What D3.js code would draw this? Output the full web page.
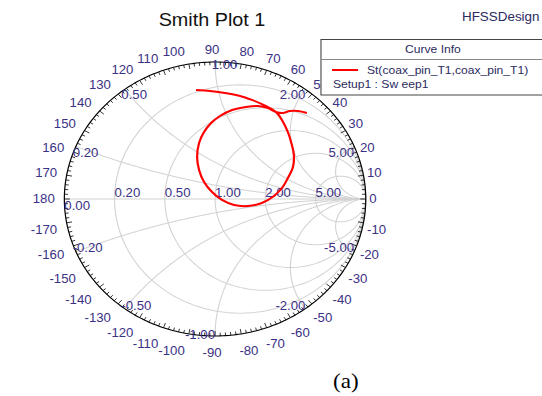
<!DOCTYPE html>
<html>
<head>
<meta charset="utf-8">
<script src="https://cdn.jsdelivr.net/npm/d3@7"></script>
<style>
body { margin: 0; background: #fff; }
svg text { font-family: Arial, "Liberation Sans", sans-serif; }
</style>
</head>
<body>
<div id="chart"></div>
<script>
// Grid values
var resistances = [0.2, 0.5, 1, 2, 5];
var reactances = [0.2, 0.5, 1, 2, 5, -0.2, -0.5, -1, -2, -5];
var angleLabels = [0, 10, 20, 30, 40, 50, 60, 70, 80, 90, 100, 110, 120, 130, 140, 150, 160, 170, 180,
    -170, -160, -150, -140, -130, -120, -110, -100, -90, -80, -70, -60, -50, -40, -30, -20, -10];

// St(coax_pin_T1,coax_pin_T1), reflection coefficient (real / imag)
var curveRe = [-0.126, -0.033, 0.066, 0.166, 0.245, 0.311, 0.364, 0.404, 0.444, 0.483, 0.510, 0.523,
    0.517, 0.483, 0.444, 0.391, 0.311, 0.219, 0.126, 0.046, -0.020, -0.073, -0.106, -0.119, -0.106,
    -0.073, -0.026, 0.033, 0.113, 0.205, 0.285, 0.351, 0.404, 0.450, 0.497, 0.550, 0.609];
var curveIm = [0.796, 0.788, 0.774, 0.752, 0.723, 0.693, 0.664, 0.635, 0.577, 0.489, 0.394, 0.321,
    0.234, 0.153, 0.080, 0.022, -0.029, -0.051, -0.044, -0.007, 0.051, 0.124, 0.212, 0.307, 0.409,
    0.489, 0.555, 0.606, 0.650, 0.672, 0.679, 0.664, 0.635, 0.628, 0.642, 0.642, 0.628];

var svgWidth = 542;
var svgHeight = 396;
var stretch = 1.1; // picture is a bit wider than tall

var cx = 195.5, cy = 199, R = 137;
var labelColor = "#3b3185";

var svg = d3.select("#chart")
    .append("svg")
    .attr("width", svgWidth)
    .attr("height", svgHeight);

var root = svg.append("g").attr("transform", "scale(" + stretch + ",1)");

var xScale = d3.scaleLinear().domain([-1, 1]).range([cx - R, cx + R]);
var yScale = d3.scaleLinear().domain([-1, 1]).range([cy + R, cy - R]);

var line = d3.line()
    .x(function (d) { return xScale(d[0]); })
    .y(function (d) { return yScale(d[1]); });

// z -> gamma
function gamma(r, x) {
    var d = (r + 1) * (r + 1) + x * x;
    return [(r * r + x * x - 1) / d, 2 * x / d];
}

// Grid
var grid = root.append("g").attr("class", "grid")
    .attr("fill", "none")
    .attr("stroke", "#d2d2d2")
    .attr("stroke-width", 1);

grid.append("path").attr("d", line([[-1, 0], [1, 0]]));

resistances.forEach(function (r) {
    var c = r / (1 + r), a = 1 / (1 + r);
    var pts = d3.range(0, 361, 2).map(function (t) {
        var rad = t * Math.PI / 180;
        return [c + a * Math.cos(rad), a * Math.sin(rad)];
    });
    grid.append("path").attr("d", line(pts));
});

reactances.forEach(function (x) {
    var pts = d3.range(0, 301).map(function (i) {
        var u = i / 300 * Math.PI / 2;
        return gamma(Math.tan(u), x);
    });
    pts.push([1, 0]);
    grid.append("path").attr("d", line(pts));
});

// Outer ring and ticks
root.append("path")
    .attr("d", line(d3.range(0, 361, 1).map(function (t) {
        var rad = t * Math.PI / 180;
        return [Math.cos(rad), Math.sin(rad)];
    })))
    .attr("fill", "none")
    .attr("stroke", "#000")
    .attr("stroke-width", 1.1);

var ticks = root.append("g").attr("stroke", "#111").attr("stroke-width", 0.8);
d3.range(0, 360, 2).forEach(function (t) {
    var rad = t * Math.PI / 180;
    var len = (t % 10 === 0) ? 5 : 3.2;
    var k = 1 - len / R;
    ticks.append("line")
        .attr("x1", xScale(Math.cos(rad)))
        .attr("y1", yScale(Math.sin(rad)))
        .attr("x2", xScale(k * Math.cos(rad)))
        .attr("y2", yScale(k * Math.sin(rad)));
});

// Angle labels around the chart
var labRx = 143, labRy = 149;
root.append("g").selectAll("text")
    .data(angleLabels)
    .enter()
    .append("text")
    .attr("font-size", 12)
    .attr("fill", labelColor)
    .attr("dy", "0.35em")
    .attr("text-anchor", function (d) {
        var c = Math.cos(d * Math.PI / 180);
        return c > 0.01 ? "start" : (c < -0.01 ? "end" : "middle");
    })
    .attr("x", function (d) {
        return cx - 2.7 + labRx * Math.cos(d * Math.PI / 180);
    })
    .attr("y", function (d) {
        var s = Math.sin(d * Math.PI / 180);
        return cy - labRy * s + (s < -0.01 ? 5 : -0.5);
    })
    .text(function (d) { return d; });

// Resistance labels on the real axis
root.append("g").selectAll("text")
    .data(resistances)
    .enter()
    .append("text")
    .attr("font-size", 12)
    .attr("fill", labelColor)
    .attr("x", function (r) { return xScale((r - 1) / (r + 1)); })
    .attr("y", cy - 1.5)
    .text(function (r) { return r.toFixed(2); });

root.append("text")
    .attr("font-size", 12)
    .attr("fill", labelColor)
    .attr("x", xScale(-1))
    .attr("y", cy + 11)
    .text("0.00");

// Reactance labels on the ring
root.append("g").selectAll("text")
    .data(reactances)
    .enter()
    .append("text")
    .attr("font-size", 12)
    .attr("fill", labelColor)
    .attr("dy", "0.35em")
    .attr("text-anchor", function (x) {
        if (x > 0) return x <= 1 ? "start" : "end";
        return Math.abs(x) < 1 ? "start" : "end";
    })
    .attr("x", function (x) {
        var g = gamma(0, x);
        var shift = (x > 0 && x <= 1) || (x < 0 && x > -1) ? -3 : 0;
        return xScale(g[0]) + shift;
    })
    .attr("y", function (x) {
        var g = gamma(0, x);
        var c = Math.abs(g[0]);
        return yScale(g[1]) + (x > 0 ? 3 + 4 * c : -1 - 3 * c);
    })
    .text(function (x) { return x.toFixed(2); });

// Curve
var curve = curveRe.map(function (v, i) { return [v, curveIm[i]]; });
root.append("path")
    .attr("d", line.curve(d3.curveCatmullRom)(curve))
    .attr("fill", "none")
    .attr("stroke", "#ff0000")
    .attr("stroke-width", 2);

// Title and design name
root.append("text")
    .attr("x", 192.7)
    .attr("y", 26.5)
    .attr("text-anchor", "middle")
    .attr("font-size", 18)
    .attr("fill", "#111")
    .text("Smith Plot 1");

root.append("text")
    .attr("x", 420)
    .attr("y", 21)
    .attr("font-size", 12.2)
    .attr("fill", "#2b2b5e")
    .text("HFSSDesign");

// Legend
var legend = root.append("g").attr("class", "legend");
legend.append("rect")
    .attr("x", 291.8)
    .attr("y", 39.5)
    .attr("width", 260)
    .attr("height", 55.5)
    .attr("fill", "#fff")
    .attr("stroke", "#444")
    .attr("stroke-width", 1);
legend.append("line")
    .attr("x1", 291.8).attr("x2", 560)
    .attr("y1", 59.5).attr("y2", 59.5)
    .attr("stroke", "#888");
legend.append("text")
    .attr("x", 393.6).attr("y", 53)
    .attr("text-anchor", "middle")
    .attr("font-size", 11)
    .attr("fill", "#2b2b5e")
    .text("Curve Info");
legend.append("line")
    .attr("x1", 301.8).attr("x2", 325.5)
    .attr("y1", 70).attr("y2", 70)
    .attr("stroke", "#ff0000")
    .attr("stroke-width", 2);
legend.append("text")
    .attr("x", 333.6).attr("y", 74)
    .attr("font-size", 11)
    .attr("fill", "#2b2b5e")
    .text("St(coax_pin_T1,coax_pin_T1)");
legend.append("text")
    .attr("x", 302.7).attr("y", 88.5)
    .attr("font-size", 11)
    .attr("fill", "#2b2b5e")
    .text("Setup1 : Sw eep1");

// Caption
root.append("text")
    .attr("x", 302.7)
    .attr("y", 388)
    .style("font-family", "'Liberation Serif', 'Times New Roman', serif")
    .attr("font-size", 21)
    .attr("fill", "#000")
    .text("(a)");
</script>
</body>
</html>
